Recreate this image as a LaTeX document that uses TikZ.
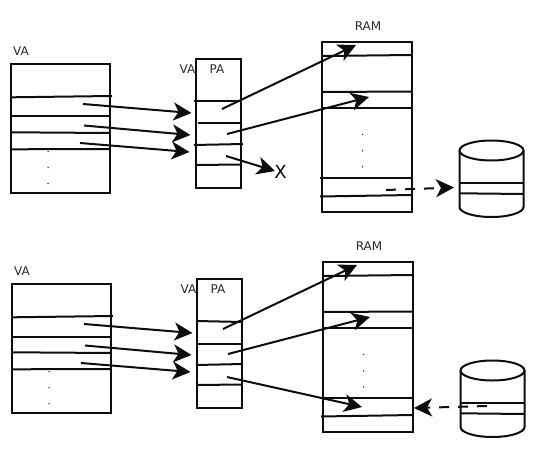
\documentclass[tikz,border=0pt]{standalone}
\usepackage{fontspec}
\setmainfont{DejaVu Sans}
\usetikzlibrary{arrows.meta}
\definecolor{ink}{HTML}{0D0D0D}
\definecolor{labelink}{HTML}{2B2B2B}
\tikzset{
  pen/.style={line width=2pt,draw=ink},
  thinpen/.style={line width=2pt,draw=ink},
  boxnode/.style={pen,inner sep=0pt,outer sep=0pt},
  lbl/.style={font=\fontsize{12pt}{14pt}\selectfont,text=labelink,inner sep=0pt},
  bigx/.style={font=\fontsize{18pt}{20pt}\selectfont,text=ink,inner sep=0pt},
  dotnode/.style={circle,fill=labelink,inner sep=0pt,minimum size=1.5pt},
  arr/.style={line width=2pt,draw=ink,-{Stealth[length=18pt,width=18pt,inset=5pt,fill=ink]}},
  dasharr/.style={arr,dash pattern=on 10pt off 9pt},
}
% #1 prefix, #2 xshift, #3 yshift
\newcommand{\panelbase}[3]{%
\begin{scope}[shift={(#2,#3)}]
  \node[lbl] (#1valabel) at (21,51) {VA};
  \node[lbl] (#1vbl) at (187.5,69) {VA};
  \node[lbl] (#1palabel) at (217,69) {PA};
  \node[lbl] (#1ramlabel) at (368,26) {RAM};
  \node[boxnode,minimum width=99pt,minimum height=129pt] (#1va) at (60.5,128.5) {};
  \node[boxnode,minimum width=45.5pt,minimum height=129pt] (#1pa) at (218.25,123.5) {};
  \node[boxnode,minimum width=90pt,minimum height=170pt] (#1ram) at (367,127) {};
  % VA rows
  \draw[thinpen] (12,97.3) -- (112,96);
  \draw[thinpen] (12,116.5) -- (110,116.5);
  \draw[thinpen] (12,132.3) -- (110,133);
  \draw[thinpen] (12,149.3) -- (110,149);
  \node[dotnode] (#1vd1) at (48,151.5) {};
  \node[dotnode] (#1vd2) at (48,167.5) {};
  \node[dotnode] (#1vd3) at (48,183.5) {};
  % RAM rows
  \draw[thinpen] (322,56) -- (412,55);
  \draw[thinpen] (322,92) -- (412,91.5);
  \draw[thinpen] (322,108) -- (412,108);
  \draw[thinpen] (320,178.3) -- (412,178.3);
  \draw[thinpen] (320,196.5) -- (412,195);
  \node[dotnode] (#1rd1) at (362.5,134.5) {};
  \node[dotnode] (#1rd2) at (362.5,150.8) {};
  \node[dotnode] (#1rd3) at (362.5,166.8) {};
  % disk
  \draw[pen] (459.5,150.5) -- (459.5,207) arc[start angle=180,end angle=0,x radius=32,y radius=10] -- (523.5,150.5);
  \draw[pen] (491.5,150.5) ellipse[x radius=32,y radius=10];
  \draw[thinpen] (459.5,182.5) -- (523.5,182.5);
  \draw[thinpen] (459.5,193.3) -- (523.5,194);
  % arrows VA to PA
  \coordinate (#1a1s) at (83,104);  \coordinate (#1a1e) at (191.5,113);
  \coordinate (#1a2s) at (84,125.5);\coordinate (#1a2e) at (190.5,135);
  \coordinate (#1a3s) at (80,143);  \coordinate (#1a3e) at (189.5,152);
  \draw[arr] (#1a1s) -- (#1a1e);
  \draw[arr] (#1a2s) -- (#1a2e);
  \draw[arr] (#1a3s) -- (#1a3e);
  % arrows PA to RAM
  \coordinate (#1b1s) at (222,109); \coordinate (#1b1e) at (356,45);
  \coordinate (#1b2s) at (227,134); \coordinate (#1b2e) at (369,97);
  \draw[arr] (#1b1s) -- (#1b1e);
  \draw[arr] (#1b2s) -- (#1b2e);
\end{scope}}
\begin{document}
\begin{tikzpicture}[x=1pt,y=-1pt]
\useasboundingbox (0,0) rectangle (534,449);
\panelbase{t}{0}{0}
\panelbase{u}{1}{220}
% top panel PA rows, fault and page-out
\draw[thinpen] (194,101) -- (242,101);
\draw[thinpen] (198,123) -- (240,123);
\draw[thinpen] (194,145) -- (243,144);
\draw[thinpen] (196,165) -- (240,164.5);
\node[bigx] (tx) at (280.5,172) {X};
\coordinate (tcs) at (226,156);
\coordinate (tce) at (275,171);
\draw[arr] (tcs) -- (tce);
\coordinate (tds) at (386,190);
\coordinate (tde) at (454,187.5);
\draw[dasharr] (tds) -- (tde);
% bottom panel PA rows, mapped page and page-in
\draw[thinpen] (196,321) -- (243,322);
\draw[thinpen] (197,343.5) -- (242,343.5);
\draw[thinpen] (196,365) -- (243,364);
\draw[thinpen] (197,385) -- (241,384.5);
\coordinate (ucs) at (227,377);
\coordinate (uce) at (362,407);
\draw[arr] (ucs) -- (uce);
\coordinate (uds) at (487,406);
\coordinate (ude) at (414,408);
\draw[dasharr] (uds) -- (ude);
\end{tikzpicture}
\end{document}
